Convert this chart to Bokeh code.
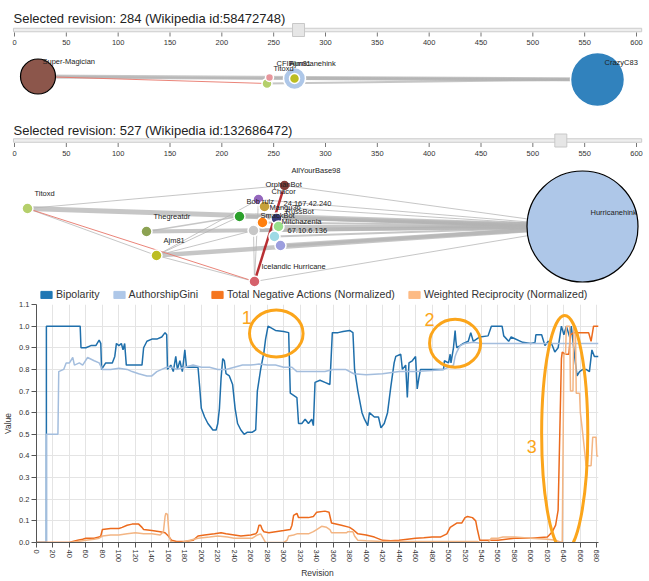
import math
from bokeh.plotting import figure
from bokeh.models import Range1d, FixedTicker, PrintfTickFormatter, Legend, LegendItem
from bokeh.layouts import column
from bokeh.core.properties import value
from bokeh.embed import file_html
from bokeh.resources import INLINE

FONT = "Liberation Sans"

# ---------------- data ----------------
selected_revisions = [284, 527]
wikipedia_ids = [58472748, 132686472]
slider_handle_revisions = [274, 527]
slider_ticks = list(range(0, 601, 50))

# network snapshot at revision 284
net1_names = ["Super-Magician", "CrazyC83", "Hurricanehink", "CFIF", "Titoxd", "Ajm81"]
net1_edges = [("Super-Magician", "CrazyC83", 4), ("Super-Magician", "Hurricanehink", 2),
              ("Hurricanehink", "CrazyC83", 3), ("Titoxd", "CrazyC83", 2), ("CFIF", "CrazyC83", 1)]
net1_negative_edges = [("Super-Magician", "Titoxd", 1)]

# network snapshot at revision 527
net2_names = ["Hurricanehink", "Titoxd", "Thegreatdr", "Ajm81", "Bob rulz", "OrphanBot", "Chacor",
              "AllYourBase98", "24.167.42.240", "Mangu36", "RussBot", "SmackBot", "Mitchazenia",
              "67.10.6.136", "Icelandic Hurricane"]
net2_edges = [("Titoxd", "Hurricanehink", 5), ("Titoxd", "AllYourBase98", 1), ("Titoxd", "Ajm81", 1),
              ("Thegreatdr", "Hurricanehink", 4), ("Thegreatdr", "Bob rulz", 1.5),
              ("Ajm81", "Hurricanehink", 4.5), ("Ajm81", "Bob rulz", 1), ("Ajm81", "OrphanBot", 1),
              ("Ajm81", "SmackBot", 1), ("Ajm81", "Icelandic Hurricane", 1),
              ("Icelandic Hurricane", "Hurricanehink", 1), ("Icelandic Hurricane", "SmackBot", 1),
              ("Icelandic Hurricane", "OrphanBot", 1), ("Bob rulz", "Hurricanehink", 4),
              ("AllYourBase98", "Hurricanehink", 1), ("Chacor", "Hurricanehink", 1),
              ("24.167.42.240", "Hurricanehink", 2), ("Mangu36", "Hurricanehink", 2),
              ("RussBot", "Hurricanehink", 3), ("SmackBot", "Hurricanehink", 3),
              ("Mitchazenia", "Hurricanehink", 2), ("67.10.6.136", "Hurricanehink", 4),
              ("OrphanBot", "Hurricanehink", 1)]
net2_negative_edges = [("Titoxd", "Icelandic Hurricane", 1), ("Icelandic Hurricane", "AllYourBase98", 2.5)]

# time series (revision, value)
x_ticks = list(range(0, 681, 20))
y_ticks = [i / 10 for i in range(0, 12)]
series_names = ["Bipolarity", "AuthorshipGini", "Total Negative Actions (Normalized)",
                "Weighted Reciprocity (Normalized)"]

bipolarity = [(0, 0), (12, 0), (12, 1.0), (53, 1.0), (54, 0.90), (60, 0.90), (66, 0.91), (72, 0.91),
              (76, 0.935), (78, 0.92), (79, 0.80), (84, 0.83), (92, 0.83), (95, 0.86), (97, 0.92),
              (100, 0.91), (103, 0.92), (105, 0.89), (107, 0.92), (109, 0.82), (115, 0.82), (122, 0.82),
              (128, 0.82), (130, 0.90), (134, 0.93), (140, 0.94), (146, 0.94), (152, 0.95), (156, 0.97),
              (158, 0.96), (159, 0.80), (163, 0.82), (166, 0.79), (169, 0.86), (171, 0.80), (174, 0.84),
              (177, 0.79), (180, 0.89), (182, 0.81), (188, 0.81), (196, 0.81), (198, 0.72), (200, 0.62),
              (204, 0.58), (208, 0.55), (212, 0.53), (214, 0.52), (218, 0.52), (220, 0.55), (222, 0.62),
              (224, 0.76), (226, 0.85), (228, 0.84), (230, 0.78), (234, 0.77), (238, 0.73), (241, 0.62),
              (244, 0.55), (248, 0.52), (252, 0.50), (256, 0.51), (262, 0.51), (266, 0.52), (268, 0.70),
              (272, 0.80), (276, 0.88), (278, 0.94), (281, 1.0), (290, 0.98), (300, 0.975), (306, 0.97),
              (308, 0.69), (312, 0.68), (316, 0.67), (318, 0.55), (322, 0.55), (326, 0.57), (330, 0.55),
              (334, 0.57), (336, 0.54), (338, 0.74), (344, 0.75), (350, 0.74), (356, 0.73), (359, 0.97),
              (366, 0.97), (372, 0.975), (380, 0.98), (384, 0.97), (386, 0.80), (390, 0.70), (395, 0.60),
              (398, 0.57), (402, 0.54), (404, 0.60), (410, 0.58), (415, 0.58), (418, 0.53), (422, 0.55),
              (426, 0.60), (428, 0.66), (430, 0.72), (434, 0.83), (436, 0.86), (442, 0.87), (444, 0.80),
              (448, 0.82), (450, 0.67), (452, 0.83), (456, 0.84), (460, 0.86), (462, 0.71), (464, 0.76),
              (466, 0.80), (480, 0.80), (494, 0.80), (495, 0.84), (500, 0.83), (502, 0.87), (503, 0.83),
              (506, 0.90), (508, 0.98), (509, 0.93), (510, 0.90), (518, 0.92), (524, 0.93), (527, 0.97),
              (530, 0.93), (538, 0.95), (548, 0.955), (552, 1.0), (565, 1.0), (567, 0.955), (573, 0.93),
              (576, 0.95), (590, 0.925), (600, 0.92), (605, 0.925), (606, 0.96), (613, 0.96), (617, 0.91),
              (621, 0.93), (625, 0.92), (629, 0.88), (633, 0.90), (637, 1.0), (640, 0.96), (643, 1.0),
              (647, 0.95), (649, 1.0), (653, 0.86), (656, 0.77), (659, 0.79), (663, 0.80), (667, 0.80),
              (671, 0.79), (674, 0.89), (677, 0.86), (682, 0.86)]

authorship_gini = [(0, 0), (12, 0), (12, 0.50), (26, 0.50), (27, 0.79), (33, 0.80), (36, 0.83), (40, 0.83),
                   (44, 0.855), (46, 0.82), (52, 0.83), (56, 0.82), (62, 0.855), (70, 0.84), (76, 0.83),
                   (80, 0.80), (90, 0.80), (100, 0.805), (110, 0.80), (116, 0.79), (124, 0.78), (134, 0.77),
                   (140, 0.77), (146, 0.79), (152, 0.80), (158, 0.81), (164, 0.81), (170, 0.80), (180, 0.81),
                   (190, 0.82), (200, 0.81), (210, 0.81), (220, 0.80), (230, 0.80), (240, 0.81), (250, 0.82),
                   (260, 0.82), (270, 0.825), (280, 0.82), (290, 0.82), (300, 0.81), (310, 0.81), (316, 0.79),
                   (330, 0.79), (340, 0.79), (350, 0.79), (360, 0.80), (375, 0.80), (385, 0.78), (400, 0.775),
                   (420, 0.78), (440, 0.79), (460, 0.79), (480, 0.795), (494, 0.80), (500, 0.81), (506, 0.82),
                   (508, 0.86), (510, 0.88), (514, 0.91), (520, 0.92), (530, 0.925), (540, 0.92), (560, 0.92),
                   (580, 0.92), (600, 0.92), (620, 0.92), (640, 0.92), (660, 0.92), (682, 0.92)]

total_negative = [(0, 0), (40, 0), (44, 0.005), (50, 0.01), (56, 0.015), (60, 0.02), (70, 0.02), (76, 0.025),
                  (78, 0.03), (80, 0.06), (90, 0.065), (100, 0.065), (104, 0.07), (110, 0.08), (116, 0.085),
                  (124, 0.085), (128, 0.07), (130, 0.06), (140, 0.055), (150, 0.05), (156, 0.045), (160, 0.03),
                  (164, 0.01), (170, 0.005), (180, 0.005), (190, 0.01), (196, 0.03), (204, 0.035), (216, 0.04),
                  (224, 0.045), (230, 0.04), (240, 0.035), (248, 0.03), (260, 0.035), (266, 0.04), (268, 0.05),
                  (270, 0.08), (272, 0.08), (274, 0.06), (276, 0.05), (282, 0.045), (290, 0.05), (300, 0.055),
                  (308, 0.06), (310, 0.08), (312, 0.125), (316, 0.135), (318, 0.115), (330, 0.115),
                  (336, 0.12), (338, 0.13), (340, 0.14), (350, 0.145), (355, 0.14), (358, 0.09), (370, 0.08),
                  (380, 0.07), (384, 0.06), (390, 0.04), (400, 0.035), (410, 0.025), (420, 0.01), (430, 0.008),
                  (440, 0.01), (450, 0.015), (460, 0.02), (470, 0.022), (480, 0.025), (490, 0.025),
                  (498, 0.04), (502, 0.07), (510, 0.09), (516, 0.09), (520, 0.115), (523, 0.12), (529, 0.115),
                  (533, 0.10), (535, 0.06), (538, 0.01), (550, 0.01), (560, 0.01), (580, 0.02), (600, 0.02),
                  (620, 0.025), (626, 0.05), (630, 0.08), (633, 0.15), (635, 0.5), (637, 0.85), (638, 0.88),
                  (642, 0.87), (646, 0.87), (648, 0.96), (652, 0.97), (670, 0.97), (673, 0.93), (676, 1.0),
                  (682, 1.0)]

weighted_reciprocity = [(0, 0), (40, 0), (50, 0.005), (60, 0.01), (70, 0.015), (76, 0.02), (80, 0.03),
                        (90, 0.035), (100, 0.035), (110, 0.04), (120, 0.045), (130, 0.04), (140, 0.04),
                        (150, 0.035), (154, 0.05), (156, 0.12), (157, 0.135), (159, 0.13), (161, 0.03),
                        (163, 0.005), (166, 0), (176, 0), (180, 0.005), (196, 0.02), (210, 0.025),
                        (220, 0.03), (232, 0.025), (240, 0.02), (250, 0.02), (262, 0.02), (268, 0.035),
                        (272, 0.04), (275, 0.02), (278, 0), (300, 0), (304, 0.01), (306, 0.03), (312, 0.035),
                        (316, 0.04), (330, 0.04), (336, 0.05), (340, 0.06), (346, 0.075), (352, 0.07),
                        (356, 0.06), (358, 0.045), (376, 0.045), (378, 0.05), (384, 0.05), (386, 0.03),
                        (390, 0.01), (400, 0.008), (420, 0.005), (535, 0.005), (538, 0), (548, 0),
                        (552, 0.02), (560, 0.02), (566, 0.025), (580, 0.025), (600, 0.02), (620, 0.015),
                        (630, 0.01), (634, 0.005), (638, 0), (640, 0.87), (642, 0.87), (643, 1.0),
                        (647, 1.0), (648, 0.70), (651, 0.70), (652, 1.0), (654, 1.0), (655, 0.69),
                        (659, 0.69), (660, 0.60), (663, 0.50), (667, 0.355), (673, 0.355), (675, 0.487),
                        (679, 0.487), (680, 0.40), (682, 0.40)]

# highlighted regions: label, centre revision, centre value, width (revisions), height (value)
highlight_labels = ["1", "2", "3"]
highlight_rev = [291, 508, 641]
highlight_val = [0.966, 0.921, 0.505]
highlight_w = [65, 62, 56]
highlight_h = [0.217, 0.222, 1.09]
highlight_label_rev = [255, 477, 601]
highlight_label_val = [1.04, 1.03, 0.443]

# ---------------- layout / styles ----------------
net1_pos = {"Super-Magician": (37.5, 76), "CrazyC83": (597, 79), "Hurricanehink": (294, 78),
            "CFIF": (269, 77), "Titoxd": (266.5, 83), "Ajm81": (294, 78)}
net1_label_off = {"Super-Magician": (4.5, -15), "CrazyC83": (7, -17), "Hurricanehink": (-5, -15),
                  "CFIF": (7, -14), "Titoxd": (6.5, -15), "Ajm81": (-5, -15)}
net1_size = {"Super-Magician": 35, "CrazyC83": 54, "Hurricanehink": 22, "CFIF": 8, "Titoxd": 10, "Ajm81": 10}
net1_color = {"Super-Magician": "#8c564b", "CrazyC83": "#3182bd", "Hurricanehink": "#aec7e8",
              "CFIF": "#e7969c", "Titoxd": "#b5cf6b", "Ajm81": "#bcbd22"}
net1_outline = {"Super-Magician": "#000000"}

net2_pos = {"Hurricanehink": (582, 226), "Titoxd": (27, 208), "Thegreatdr": (146, 231), "Ajm81": (156, 255),
            "Bob rulz": (239, 216), "OrphanBot": (258, 199), "Chacor": (264, 206), "AllYourBase98": (284, 185),
            "24.167.42.240": (276, 218), "Mangu36": (262, 222), "RussBot": (278, 226), "SmackBot": (253, 230),
            "Mitchazenia": (274, 236), "67.10.6.136": (280, 245), "Icelandic Hurricane": (254, 281)}
net2_size = {"Hurricanehink": 111}
net2_color = {"Hurricanehink": "#aec7e8", "Titoxd": "#b5cf6b", "Thegreatdr": "#8ca252", "Ajm81": "#bcbd22",
              "Bob rulz": "#2ca02c", "OrphanBot": "#9467bd", "Chacor": "#c6a13a", "AllYourBase98": "#843c39",
              "24.167.42.240": "#393b79", "Mangu36": "#ff7f0e", "RussBot": "#98df8a", "SmackBot": "#c7c7c7",
              "Mitchazenia": "#9edae5", "67.10.6.136": "#9c9ede", "Icelandic Hurricane": "#d6616b"}
net2_outline = {"Hurricanehink": "#000000"}
neg_colors = ["#e8776a", "#b0181d"]

line_colors = ["#1f6fab", "#a3bddd", "#ec6a1c", "#f3b583"]
swatch_colors = ["#1f77b4", "#aec7e8", "#f5761f", "#fdbb84"]

EDGE_GRAY = "#b3b3b3"
W, H = 649, 581
TOP_H = 300

top = figure(width=W, height=TOP_H, x_range=Range1d(0, W), y_range=Range1d(TOP_H, 0),
             output_backend="svg", toolbar_location=None, title=None,
             x_axis_type=None, y_axis_type=None, min_border=0, outline_line_color=None)
top.frame_align = False
# slider revision scale: 0 -> page x 14, 600 -> page x 636
px_per_rev = (636 - 14) / 600
top.extra_x_ranges = {"rev": Range1d((0 - 14) / px_per_rev, (W - 14) / px_per_rev)}

title_baselines = [18, 129.5]
track_y = [29.5, 140]
tick_label_y = [41.5, 153]
for k in range(2):
    top.text(x=[13], y=[title_baselines[k]],
             text=[f"Selected revision: {selected_revisions[k]} (Wikipedia id:{wikipedia_ids[k]})"],
             text_font=value(FONT), text_font_size=value("13px"), text_color="#222222",
             text_baseline="alphabetic", text_align="left")
    top.hbar(y=[track_y[k]], left=[-1], right=[605], height=3.5, fill_color="#eeeeee",
             line_color="#cccccc", line_width=1, x_range_name="rev")
    top.segment(x0=slider_ticks, x1=slider_ticks, y0=[track_y[k] + 2.5] * len(slider_ticks),
                y1=[track_y[k] + 6.5] * len(slider_ticks), line_color="#777777", line_width=1,
                x_range_name="rev")
    top.text(x=slider_ticks, y=[tick_label_y[k]] * len(slider_ticks), text=[str(t) for t in slider_ticks],
             text_font=value(FONT), text_font_size=value("7.5px"), text_color="#333333",
             text_align="center", text_baseline="middle", x_range_name="rev")
    top.rect(x=[slider_handle_revisions[k]], y=[track_y[k]], width=12, height=13,
             width_units="screen", height_units="screen", fill_color="#e6e6e6",
             line_color="#c8c8c8", line_width=1, x_range_name="rev")


def draw_network(names, pos, edges, neg_edges, sizes, colors, outlines, label_off, default_size):
    top.segment(x0=[pos[a][0] for a, b, w in edges], y0=[pos[a][1] for a, b, w in edges],
                x1=[pos[b][0] for a, b, w in edges], y1=[pos[b][1] for a, b, w in edges],
                line_width=[w for a, b, w in edges], line_color=EDGE_GRAY, line_alpha=0.75)
    top.segment(x0=[pos[a][0] for a, b, w in neg_edges], y0=[pos[a][1] for a, b, w in neg_edges],
                x1=[pos[b][0] for a, b, w in neg_edges], y1=[pos[b][1] for a, b, w in neg_edges],
                line_width=[w for a, b, w in neg_edges], line_color=neg_colors[:len(neg_edges)],
                line_alpha=0.9)
    order = sorted(names, key=lambda n: -sizes.get(n, default_size))
    top.scatter(x=[pos[n][0] for n in order], y=[pos[n][1] for n in order],
                size=[sizes.get(n, default_size) for n in order],
                fill_color=[colors[n] for n in order],
                line_color=[outlines.get(n, "#ffffff") for n in order],
                line_width=[1.2 if n in outlines else 1.5 for n in order])
    top.text(x=[pos[n][0] + label_off.get(n, (7, -15))[0] for n in names],
             y=[pos[n][1] + label_off.get(n, (7, -15))[1] for n in names],
             text=names, text_font=value(FONT), text_font_size=value("7.5px"), text_color="#222222",
             text_align="left", text_baseline="middle")


draw_network(net1_names, net1_pos, net1_edges, net1_negative_edges, net1_size, net1_color, net1_outline,
             net1_label_off, 10)
draw_network(net2_names, net2_pos, net2_edges, net2_negative_edges, net2_size, net2_color, net2_outline,
             {"Hurricanehink": (8, -14)}, 11)

# legend of the time-series chart (sits just above the chart); swatch renderers hold no visible data
nan = float("nan")
items = []
for name, sc in zip(series_names, swatch_colors):
    dummy = top.quad(left=[nan], right=[nan], top=[nan], bottom=[nan], fill_color=sc, line_color=sc)
    items.append(LegendItem(label=name, renderers=[dummy]))
legend = Legend(items=items, orientation="horizontal", location=(39, 0), padding=0, margin=0,
                spacing=12, label_standoff=3, glyph_width=14, glyph_height=9, label_height=9,
                border_line_color=None, background_fill_alpha=0,
                label_text_font=FONT, label_text_font_size="10.6px", label_text_color="#333333")
top.add_layout(legend)

# ---------------- line chart ----------------
p = figure(width=W, height=H - TOP_H, x_range=Range1d(0, 682), y_range=Range1d(0, 1.1),
           output_backend="svg", toolbar_location=None, title=None,
           min_border_left=32, min_border_right=51, min_border_top=4, min_border_bottom=0,
           outline_line_color=None)
p.frame_align = False

all_series = [bipolarity, authorship_gini, total_negative, weighted_reciprocity]
for data, lc in zip(all_series, line_colors):
    xs = [d[0] for d in data]
    ys = [d[1] for d in data]
    p.line(xs, ys, line_color=lc, line_width=1.5)

p.ellipse(x=highlight_rev, y=highlight_val, width=highlight_w, height=highlight_h,
          fill_color=None, line_color="#fba51b", line_width=3)
p.text(x=highlight_label_rev, y=highlight_label_val, text=highlight_labels, text_font=value(FONT),
       text_font_size=value("18px"), text_color="#fba51b", text_align="center", text_baseline="middle")

p.xaxis.ticker = FixedTicker(ticks=x_ticks)
p.yaxis.ticker = FixedTicker(ticks=y_ticks)
p.yaxis.formatter = PrintfTickFormatter(format="%.1f")
p.xaxis.major_label_orientation = -math.pi / 2
p.xaxis.axis_label = "Revision"
p.yaxis.axis_label = "Value"
for ax in (p.xaxis, p.yaxis):
    ax.axis_line_color = "#555555"
    ax.major_tick_line_color = "#555555"
    ax.minor_tick_line_color = None
    ax.major_tick_in = 0
    ax.major_tick_out = 5
    ax.major_label_standoff = 2
    ax.axis_label_standoff = 3
    ax.major_label_text_font = FONT
    ax.major_label_text_font_size = "7.5px"
    ax.major_label_text_color = "#333333"
    ax.axis_label_text_font = FONT
    ax.axis_label_text_font_size = "8.5px"
    ax.axis_label_text_font_style = "normal"
    ax.axis_label_text_color = "#333333"
p.xgrid.grid_line_color = "#e4e4e4"
p.ygrid.grid_line_color = "#e4e4e4"

layout = column(top, p, spacing=0)
open("out.html", "w").write(file_html(layout, INLINE))
